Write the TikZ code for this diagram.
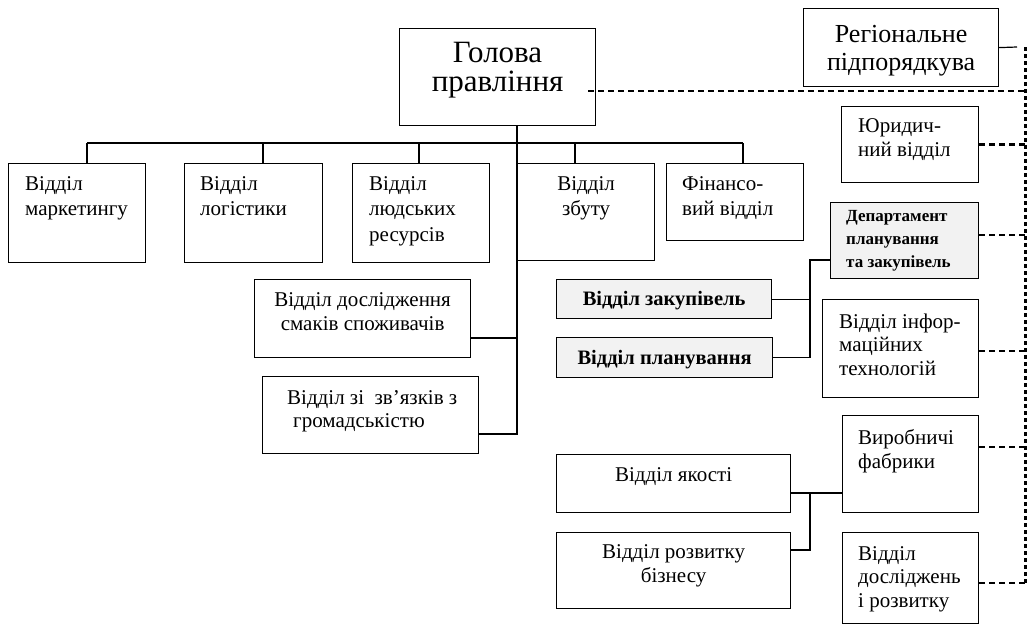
\documentclass[tikz,border=0pt]{standalone}
\usepackage{fontspec}
\setmainfont{Liberation Serif}
\usetikzlibrary{calc}
\newcommand\ft[2]{\fontsize{#1}{#2}\selectfont}
\definecolor{boxgray}{HTML}{F2F2F2}
\begin{document}
\begin{tikzpicture}[x=1pt,y=-1pt,
  bx/.style={draw, line width=1.2pt, inner sep=0pt, anchor=north west},
  gbx/.style={bx, fill=boxgray},
  tx/.style={inner sep=0pt, anchor=base west},
  txc/.style={inner sep=0pt, anchor=base},
  ln/.style={line width=1.2pt},
  dsh/.style={line width=2.5pt, dash pattern=on 6pt off 4pt},
  dtt/.style={line width=3pt, dash pattern=on 4pt off 3pt}]
\useasboundingbox[fill=white] (0,0) rectangle (1030,625);

% boxes
\node[bx, minimum width=196pt, minimum height=97pt] (head) at (399,28) {};
\node[bx, minimum width=195pt, minimum height=78pt] (reg) at (803,8) {};
\node[bx, minimum width=137pt, minimum height=99pt] (m1) at (8,163) {};
\node[bx, minimum width=138pt, minimum height=99pt] (m2) at (184,163) {};
\node[bx, minimum width=137pt, minimum height=99pt] (m3) at (352,163) {};
\node[bx, minimum width=137pt, minimum height=97pt] (m4) at (517,163) {};
\node[bx, minimum width=137pt, minimum height=77pt] (m5) at (666,163) {};
\node[bx, minimum width=137pt, minimum height=76pt] (jur) at (841,106) {};
\node[gbx, minimum width=148pt, minimum height=76pt] (dep) at (830,202) {};
\node[gbx, minimum width=215pt, minimum height=39pt] (zak) at (556,279) {};
\node[gbx, minimum width=216pt, minimum height=40pt] (plan) at (556,337) {};
\node[bx, minimum width=156pt, minimum height=98pt] (it) at (822,299) {};
\node[bx, minimum width=136pt, minimum height=97pt] (vyr) at (842,415) {};
\node[bx, minimum width=234pt, minimum height=58pt] (yak) at (556,454) {};
\node[bx, minimum width=234pt, minimum height=76pt] (biz) at (556,532) {};
\node[bx, minimum width=136pt, minimum height=91pt] (rd) at (842,532) {};
\node[bx, minimum width=216pt, minimum height=78pt] (smak) at (254,279) {};
\node[bx, minimum width=216pt, minimum height=77pt] (zv) at (262,376) {};

% texts
\node[txc] (headt) at ([yshift=-34pt]head.north) {\parbox[t]{190pt}{\centering\ft{31}{29}Голова\\правління}};
\node[txc] (regt) at ([yshift=-34pt]reg.north) {\parbox[t]{190pt}{\centering\ft{26}{28}Регіональне\\підпорядкува}};
\node[tx] (m1t) at ([xshift=17pt,yshift=-27pt]m1.north west) {\parbox[t]{125pt}{\raggedright\ft{21}{25.5}Відділ\\маркетингу}};
\node[tx] (m2t) at ([xshift=16pt,yshift=-27pt]m2.north west) {\parbox[t]{125pt}{\raggedright\ft{21}{25.5}Відділ\\логістики}};
\node[tx] (m3t) at ([xshift=17pt,yshift=-27pt]m3.north west) {\parbox[t]{125pt}{\raggedright\ft{21}{25.5}Відділ\\людських\\ресурсів}};
\node[txc] (m4t) at ([yshift=-27pt]m4.north) {\parbox[t]{130pt}{\centering\ft{21}{25.5}Відділ\\збуту}};
\node[tx] (m5t) at ([xshift=16pt,yshift=-27pt]m5.north west) {\parbox[t]{125pt}{\raggedright\ft{21}{25.5}Фінансо-\\вий відділ}};
\node[tx] (jurt) at ([xshift=17pt,yshift=-26pt]jur.north west) {\parbox[t]{125pt}{\raggedright\ft{21}{24}Юридич-\\ний відділ}};
\node[tx] (dept) at ([xshift=16pt,yshift=-19pt]dep.north west) {\parbox[t]{135pt}{\raggedright\bfseries\ft{17}{23}Департамент\\планування\\та закупівель}};
\node[txc] (zakt) at ([yshift=-26pt]zak.north) {\parbox[t]{210pt}{\centering\bfseries\ft{20.5}{24}Відділ закупівель}};
\node[txc] (plant) at ([yshift=-27pt]plan.north) {\parbox[t]{210pt}{\centering\bfseries\ft{20.5}{24}Відділ планування}};
\node[tx] (itt) at ([xshift=17pt,yshift=-29pt]it.north west) {\parbox[t]{140pt}{\raggedright\ft{21}{23.5}Відділ інфор-\\маційних\\технологій}};
\node[tx] (vyrt) at ([xshift=16pt,yshift=-29pt]vyr.north west) {\parbox[t]{120pt}{\raggedright\ft{21}{24}Виробничі\\фабрики}};
\node[txc] (yakt) at ([yshift=-27pt]yak.north) {\parbox[t]{230pt}{\centering\ft{21}{24}Відділ якості}};
\node[txc] (bizt) at ([yshift=-26pt]biz.north) {\parbox[t]{230pt}{\centering\ft{21}{24}Відділ розвитку\\бізнесу}};
\node[tx] (rdt) at ([xshift=16pt,yshift=-28pt]rd.north west) {\parbox[t]{120pt}{\raggedright\ft{21}{23.5}Відділ\\досліджень\\і розвитку}};
\node[txc] (smakt) at ([yshift=-27pt]smak.north) {\parbox[t]{214pt}{\centering\ft{21}{24}Відділ дослідження\\смаків споживачів}};
\node[tx] (zvt) at ([xshift=25pt,yshift=-28pt]zv.north west) {\parbox[t]{190pt}{\raggedright\ft{21}{23}Відділ зі~ зв’язків з\\\hspace*{6pt}громадськістю}};

% main tree
\draw[ln] (head.south -| m4.west) -- (m4.west |- 0,434) -- (zv.east |- 0,434);
\draw[ln] (smak.east |- 0,338) -- (m4.west |- 0,338);
\coordinate (busL) at (87,143);
\coordinate (busR) at (743,143);
\draw[ln] (busL) -- (busR);
\draw[ln] (busL) -- (m1.north -| busL);
\draw[ln] (263,143) -- (m2.north -| 263,0);
\draw[ln] (419,143) -- (m3.north -| 419,0);
\draw[ln] (575,143) -- (m4.north -| 575,0);
\draw[ln] (busR) -- (m5.north -| busR);

% planning department
\draw[ln] (dep.west |- 0,260) -- (810,260) -- (plan.east -| 810,0) -- (plan.east);
\draw[ln] (zak.east) -- (zak.east -| 810,0);

% factories
\draw[ln] (yak.east |- 0,493) -- (vyr.west |- 0,493);
\draw[ln] (810,493) -- (810,550) -- (biz.east |- 0,550);

% regional subordination
\coordinate (vtop) at (1025,47);
\coordinate (vbot) at (1025,583);
\draw[ln] (reg.east) -- (1017,47);
\draw[dtt] (vtop) -- (vbot);
\draw[dsh] ([xshift=-8pt]head.east |- 0,91) -- (vtop |- 0,91);
\draw[dsh] (jur.east |- 0,144.5) -- (vtop |- 0,144.5);
\draw[dsh] (dep.east |- 0,235) -- (vtop |- 0,235);
\draw[dsh] (it.east |- 0,351) -- (vtop |- 0,351);
\draw[dsh] (vyr.east |- 0,447) -- (vtop |- 0,447);
\draw[dsh] (rd.east |- 0,583) -- (vbot);
\end{tikzpicture}
\end{document}
